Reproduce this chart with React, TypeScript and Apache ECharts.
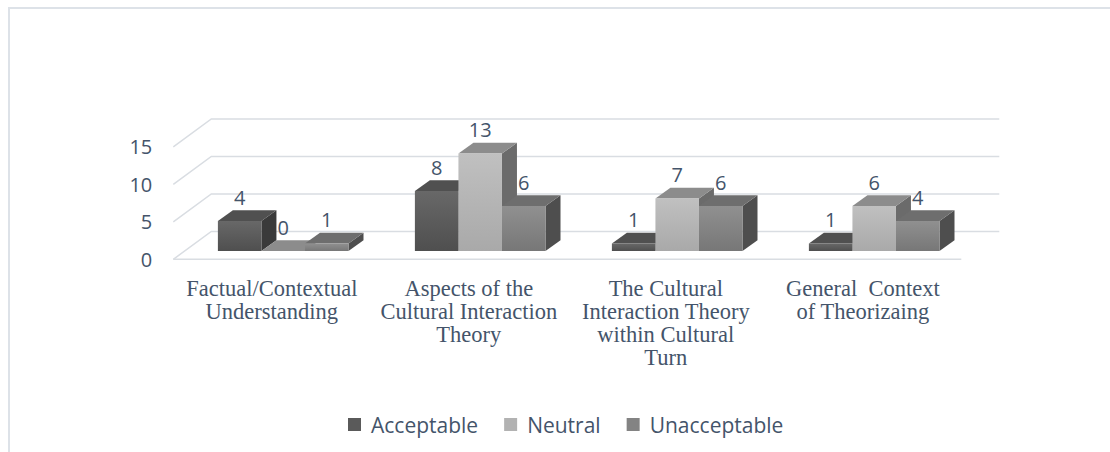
import React, { useEffect, useRef } from "react";
import * as echarts from "echarts";

const categories = [
  "Factual/Contextual\nUnderstanding",
  "Aspects of the\nCultural Interaction\nTheory",
  "The Cultural\nInteraction Theory\nwithin Cultural\nTurn",
  "General  Context\nof Theorizaing",
];
const seriesNames = ["Acceptable", "Neutral", "Unacceptable"];
const acceptable = [4, 8, 1, 1];
const neutral = [0, 13, 7, 6];
const unacceptable = [1, 6, 6, 4];
const yTicks = [0, 5, 10, 15];

const FACE = [
  { front: ["#686868", "#4f4f4f"], top: "#505050", side: "#3a3a3a", legend: "#5a5a5a" },
  { front: ["#c0c0c0", "#a9a9a9"], top: "#8c8c8c", side: "#6b6b6b", legend: "#b2b2b2" },
  { front: ["#909090", "#777777"], top: "#6e6e6e", side: "#4e4e4e", legend: "#838383" },
];

const TEXT = "#44546a";
const FLOOR_DX = 38;
const FLOOR_DY = -27.8;
const BAR_DX = 15;
const BAR_DY = -10.7;

export default function App() {
  const ref = useRef<HTMLDivElement>(null);
  useEffect(() => {
    if (!ref.current) return;
    const chart = echarts.init(ref.current, undefined, { renderer: "svg" });
    const values = [acceptable, neutral, unacceptable];

    const barSeries = values.map((arr, k) => ({
      type: "custom",
      name: seriesNames[k],
      xAxisIndex: 0,
      yAxisIndex: 0,
      z: 5 + k,
      clip: false,
      itemStyle: { color: FACE[k].legend },
      data: arr.map((v, i) => [i, v]),
      renderItem: (params: any, api: any) => {
        const ci = api.value(0);
        const v = api.value(1);
        const base = api.coord([ci, 0]);
        const top = api.coord([ci, v]);
        const band = api.size([1, 0])[0];
        const w = band * 0.221;
        const left = base[0] - 1.5 * w + k * w;
        const by = base[1];
        const ty = top[1];
        const f = FACE[k];
        const children: any[] = [];
        children.push({
          type: "polygon",
          shape: {
            points: [
              [left + w, ty],
              [left + w + BAR_DX, ty + BAR_DY],
              [left + w + BAR_DX, by + BAR_DY],
              [left + w, by],
            ],
          },
          style: { fill: f.side },
        });
        children.push({
          type: "polygon",
          shape: {
            points: [
              [left, ty],
              [left + w, ty],
              [left + w + BAR_DX, ty + BAR_DY],
              [left + BAR_DX, ty + BAR_DY],
            ],
          },
          style: { fill: f.top },
        });
        if (by - ty > 0) {
          children.push({
            type: "rect",
            shape: { x: left, y: ty, width: w, height: by - ty },
            style: {
              fill: new echarts.graphic.LinearGradient(0, 0, 0, 1, [
                { offset: 0, color: f.front[0] },
                { offset: 1, color: f.front[1] },
              ]),
            },
          });
        }
        children.push({
          type: "text",
          style: {
            text: String(v),
            x: left + w / 2,
            y: ty - 24,
            fill: TEXT,
            fontSize: 20,
            fontFamily: "Open Sans",
            align: "center",
            verticalAlign: "middle",
          },
        });
        return { type: "group", children };
      },
    }));

    const wallSeries = {
      type: "custom",
      name: "walls",
      xAxisIndex: 1,
      yAxisIndex: 1,
      z: 1,
      clip: false,
      silent: true,
      data: yTicks.map((v) => [0, v]),
      renderItem: (params: any, api: any) => {
        const v = api.value(1);
        const cs = params.coordSys;
        const py = api.coord([0, v])[1];
        const x0 = cs.x;
        const x1 = cs.x + cs.width;
        const stroke = { stroke: "#d9dde2", lineWidth: 1.5, fill: null };
        const children: any[] = [
          {
            type: "polyline",
            shape: {
              points: [
                [x0, py],
                [x0 + FLOOR_DX, py + FLOOR_DY],
                [x1 + FLOOR_DX, py + FLOOR_DY],
              ],
            },
            style: stroke,
          },
        ];
        if (v === 0) {
          children.push({
            type: "line",
            shape: { x1: x0, y1: py, x2: x1, y2: py },
            style: stroke,
          });
        }
        return { type: "group", children };
      },
    };

    chart.setOption({
      animation: false,
      backgroundColor: "#ffffff",
      graphic: [
        { type: "line", shape: { x1: 1, y1: 0, x2: 1, y2: 445 }, style: { stroke: "#dde2e8", lineWidth: 2 } },
        { type: "line", shape: { x1: 0, y1: 1, x2: 1102, y2: 1 }, style: { stroke: "#dde2e8", lineWidth: 2 } },
      ],
      legend: {
        left: 335,
        top: 402,
        icon: "rect",
        itemWidth: 13,
        itemHeight: 13,
        itemGap: 26,
        textStyle: { color: TEXT, fontSize: 21, fontFamily: "Open Sans", padding: [0, 0, 0, 5] },
        data: seriesNames.map((n, k) => ({ name: n, itemStyle: { color: FACE[k].legend } })),
      },
      grid: [
        { left: 176.7, top: 131.5, width: 788, height: 112.5 },
        { left: 165.3, top: 139.8, width: 788, height: 112.5 },
      ],
      xAxis: [
        { type: "category", gridIndex: 0, data: categories, show: false },
        {
          type: "category",
          gridIndex: 1,
          data: categories,
          axisLine: { show: false },
          axisTick: { show: false },
          axisLabel: {
            interval: 0,
            margin: 18,
            color: TEXT,
            fontFamily: "Liberation Serif",
            fontSize: 22.5,
            lineHeight: 23,
          },
        },
      ],
      yAxis: [
        { type: "value", gridIndex: 0, min: 0, max: 15, interval: 5, show: false },
        {
          type: "value",
          gridIndex: 1,
          min: 0,
          max: 15,
          interval: 5,
          axisLine: { show: false },
          axisTick: { show: false },
          splitLine: { show: false },
          axisLabel: { margin: 21, color: TEXT, fontFamily: "Open Sans", fontSize: 20 },
        },
      ],
      series: [wallSeries, ...barSeries],
    });
    return () => chart.dispose();
  }, []);
  return (
    <div
      ref={ref}
      style={{ position: "absolute", left: 8, top: 7, width: 1102, height: 445 }}
    />
  );
}
